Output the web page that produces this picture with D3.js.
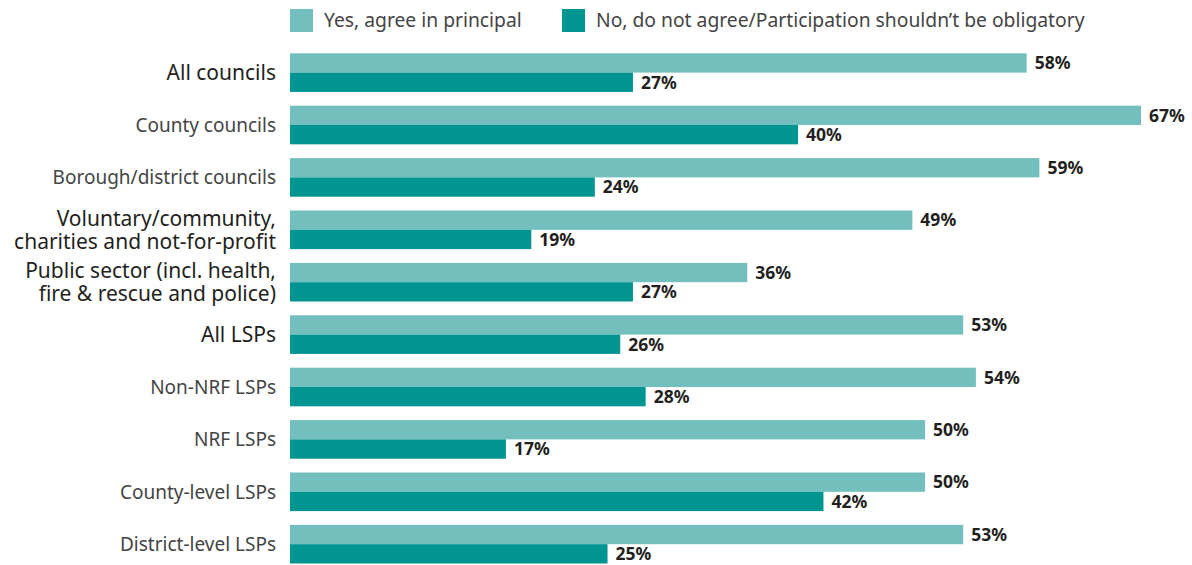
<!DOCTYPE html>
<html lang="en">
  <head>
    <meta charset="utf-8" />
    <title>Agreement by organisation type</title>
    <script src="https://d3js.org/d3.v7.min.js"></script>
    <style type="text/css">
      body {
        margin: 0;
        background: white;
      }
      text {
        font-family: "Noto Sans", sans-serif;
      }
      .cat {
        font-size: 19px;
        fill: #444;
      }
      .cat.strong {
        font-size: 21px;
        fill: #231f20;
      }
      .val {
        font-size: 17.5px;
        font-weight: bold;
        fill: #231f20;
      }
      .legend text {
        font-size: 19.3px;
        fill: #444;
      }
    </style>
  </head>
  <body>
    <script type="text/javascript">
      const w = 1192;
      const h = 565;

      // Data
      const categories = [
        "All councils",
        "County councils",
        "Borough/district councils",
        "Voluntary/community,|charities and not-for-profit",
        "Public sector (incl. health,|fire & rescue and police)",
        "All LSPs",
        "Non-NRF LSPs",
        "NRF LSPs",
        "County-level LSPs",
        "District-level LSPs"
      ];
      const strongCats = [0, 3, 4, 5];
      const seriesNames = [
        "Yes, agree in principal",
        "No, do not agree/Participation shouldn\u2019t be obligatory"
      ];
      const yesValues = [58, 67, 59, 49, 36, 53, 54, 50, 50, 53];
      const noValues = [27, 40, 24, 19, 27, 26, 28, 17, 42, 25];
      const colors = ["#72bfbe", "#009590"];

      const rows = categories.map((c, i) => ({
        cat: c,
        i: i,
        values: [yesValues[i], noValues[i]]
      }));

      const svg = d3
        .select("body")
        .append("svg")
        .attr("width", w)
        .attr("height", h);

      // Scales
      const x = d3.scaleLinear().domain([0, 67]).range([290, 1141]);
      const y = d3
        .scaleBand()
        .domain(d3.range(categories.length))
        .range([53.3, 563.5])
        .paddingInner(0.263)
        .paddingOuter(0);
      const ySub = d3
        .scaleBand()
        .domain([0, 1])
        .range([0, y.bandwidth()]);

      // Bars
      const groups = svg
        .selectAll("g.row")
        .data(rows)
        .enter()
        .append("g")
        .attr("class", "row")
        .attr("transform", (d) => "translate(0," + y(d.i) + ")");

      groups
        .selectAll("rect")
        .data((d) => d.values)
        .enter()
        .append("rect")
        .attr("x", x(0))
        .attr("y", (d, j) => ySub(j))
        .attr("width", (d) => x(d) - x(0))
        .attr("height", ySub.bandwidth())
        .attr("fill", (d, j) => colors[j]);

      groups
        .selectAll("text.val")
        .data((d) => d.values)
        .enter()
        .append("text")
        .attr("class", "val")
        .attr("x", (d) => x(d) + 8)
        .attr("y", (d, j) => ySub(j) + ySub.bandwidth() / 2)
        .attr("dy", "0.36em")
        .text((d) => d + "%");

      // Category labels
      const lineH = 23;
      groups.each(function (d) {
        const lines = d.cat.split("|");
        const t = d3
          .select(this)
          .append("text")
          .attr("class", strongCats.includes(d.i) ? "cat strong" : "cat")
          .attr("text-anchor", "end")
          .attr("x", 276)
          .attr("y", y.bandwidth() / 2 - ((lines.length - 1) * lineH) / 2);
        lines.forEach((l, k) => {
          t.append("tspan")
            .attr("x", 276)
            .attr("dy", k === 0 ? "0.36em" : lineH)
            .text(l);
        });
      });

      // Legend
      const legendX = [290, 562];
      const legend = svg
        .selectAll("g.legend")
        .data(seriesNames)
        .enter()
        .append("g")
        .attr("class", "legend")
        .attr("transform", (d, i) => "translate(" + legendX[i] + ",9)");

      legend
        .append("rect")
        .attr("width", 23)
        .attr("height", 23)
        .attr("fill", (d, i) => colors[i]);

      legend
        .append("text")
        .attr("x", 34)
        .attr("y", 11.5)
        .attr("dy", "0.36em")
        .text((d) => d);
    </script>
  </body>
</html>
